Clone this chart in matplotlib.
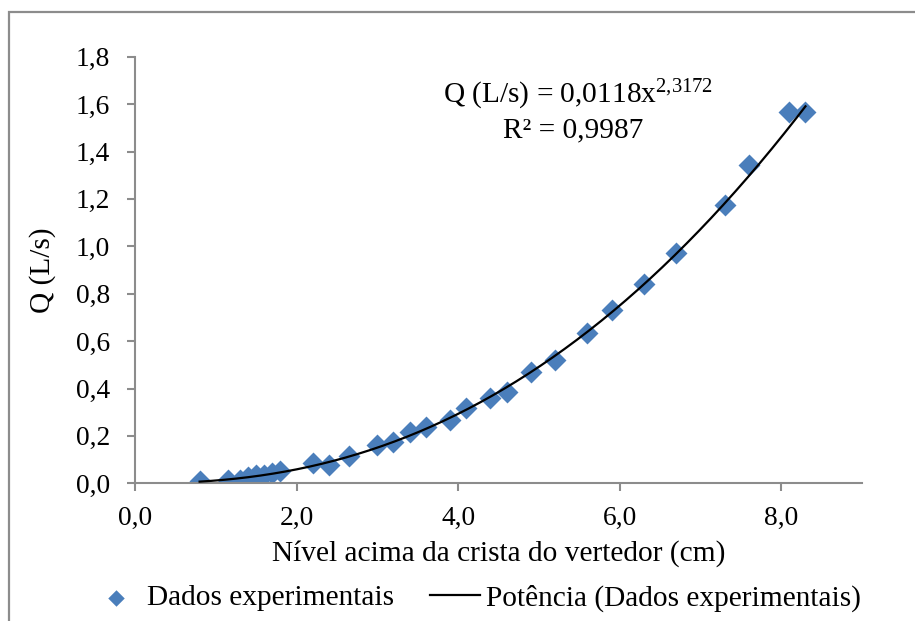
import matplotlib
matplotlib.use("Agg")
import matplotlib.pyplot as plt
from matplotlib.patches import Rectangle
import numpy as np

plt.rcParams["font.family"] = ["Liberation Serif", "DejaVu Serif"]
plt.rcParams["mathtext.fontset"] = "custom"
plt.rcParams["mathtext.rm"] = "Liberation Serif"
plt.rcParams["mathtext.it"] = "Liberation Serif"

# nivel acima da crista (cm) e vazao medida (L/s)
nivel = [0.8, 1.15, 1.3, 1.4, 1.5, 1.6, 1.7, 1.8, 2.2, 2.4, 2.65, 3.0, 3.2, 3.4,
         3.6, 3.9, 4.1, 4.4, 4.6, 4.9, 5.2, 5.6, 5.9, 6.3, 6.7, 7.3, 7.6, 8.1, 8.3]
vazao = [0.008, 0.016, 0.014, 0.025, 0.033, 0.034, 0.045, 0.054, 0.084, 0.077,
         0.117, 0.16, 0.174, 0.215, 0.236, 0.266, 0.316, 0.358, 0.385, 0.47,
         0.52, 0.634, 0.731, 0.843, 0.973, 1.175, 1.345, 1.565, 1.565]

# ajuste de potencia Q = a * h^b
coef_a = 0.0118
coef_b = 2.3172
r2 = 0.9987

x_ticks = [0, 2, 4, 6, 8]
x_tick_labels = ["0,0", "2,0", "4,0", "6,0", "8,0"]
y_ticks = [0.0, 0.2, 0.4, 0.6, 0.8, 1.0, 1.2, 1.4, 1.6, 1.8]
y_tick_labels = ["0,0", "0,2", "0,4", "0,6", "0,8", "1,0", "1,2", "1,4", "1,6", "1,8"]

W, H = 915, 621
fig = plt.figure(figsize=(W / 100, H / 100), dpi=100)
ax = fig.add_axes([135 / W, 1 - 483.3 / H, 727 / W, 426.6 / H])

grey = "#8c8c8c"
blue = "#4a7ebb"
fs = 21.2
fs_tick = 19.8

h = np.linspace(min(nivel), max(nivel), 200)
ax.scatter(nivel, vazao, marker="D", s=125, color=blue, linewidths=0, zorder=2,
           label="Dados experimentais")
ax.plot(h, coef_a * h ** coef_b, color="black", lw=1.6, zorder=3,
        label="Potência (Dados experimentais)")

ax.set_xlim(0, 9)
ax.set_ylim(0, 1.8)
ax.set_xticks(x_ticks)
ax.set_xticklabels(x_tick_labels)
ax.set_yticks(y_ticks)
ax.set_yticklabels(y_tick_labels)
ax.tick_params(axis="both", labelsize=fs_tick, direction="out", length=6, width=1.5,
               color=grey)
ax.tick_params(axis="y", pad=12)
ax.tick_params(axis="x", pad=10)

for side in ["top", "right"]:
    ax.spines[side].set_visible(False)
for side in ["left", "bottom"]:
    ax.spines[side].set_color(grey)
    ax.spines[side].set_linewidth(1.5)

ax.set_xlabel("Nível acima da crista do vertedor (cm)", fontsize=fs, labelpad=7)
ax.set_ylabel("Q (L/s)", fontsize=fs, labelpad=14)

eq = "Q (L/s) = 0,0118x$^{2{,}3172}$"
fig.text(578 / W, 1 - 95 / H, eq, fontsize=fs, ha="center", va="center")
fig.text(573 / W, 1 - 130 / H, "R² = " + f"{r2:.4f}".replace(".", ","),
         fontsize=fs, ha="center", va="center")

fig.legend(loc="center", bbox_to_anchor=(476 / W, 1 - 598 / H), ncol=2,
           frameon=False, fontsize=fs, handlelength=1.7, handletextpad=0.2,
           columnspacing=1.2, scatterpoints=1, markerscale=0.75,
           borderpad=0, borderaxespad=0)

# moldura da area do grafico
fig.add_artist(Rectangle((9 / W, -0.1), 2, 1.1 - 12 / H, transform=fig.transFigure,
                         fill=False, edgecolor=grey, lw=1.6))

fig.savefig("out.png", dpi=100)
